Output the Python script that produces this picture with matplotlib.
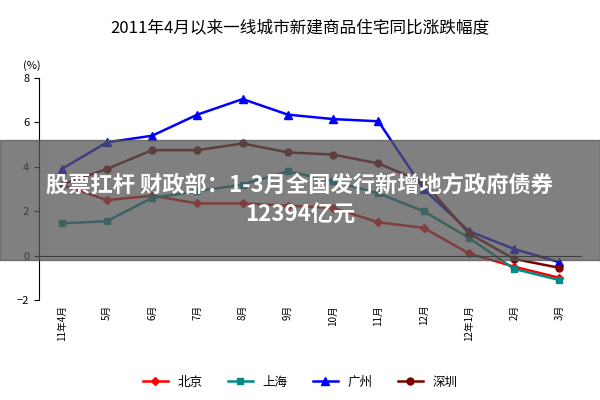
import matplotlib
matplotlib.use("Agg")
import matplotlib.pyplot as plt
from matplotlib.patches import Rectangle

plt.rcParams['font.family'] = ['Noto Sans CJK SC', 'DejaVu Sans']

months = ["11年4月", "5月", "6月", "7月", "8月", "9月", "10月", "11月", "12月", "12年1月", "2月", "3月"]
beijing = [3.2, 2.5, 2.7, 2.35, 2.35, 2.25, 2.15, 1.5, 1.25, 0.1, -0.5, -1.0]
shanghai = [1.45, 1.55, 2.6, 2.9, 3.2, 3.8, 3.35, 2.8, 2.0, 0.8, -0.6, -1.1]
guangzhou = [3.9, 5.1, 5.4, 6.35, 7.05, 6.35, 6.15, 6.05, 3.0, 1.1, 0.3, -0.3]
shenzhen = [3.2, 3.9, 4.75, 4.75, 5.05, 4.65, 4.55, 4.15, 3.3, 1.0, -0.15, -0.55]

fig = plt.figure(figsize=(6, 4), dpi=100)
ax = fig.add_axes([0.065, 0.25, 0.905, 0.555])
x = range(len(months))
ax.plot(x, beijing, color="#ff0000", marker="D", ms=4, lw=1.8, label="北京")
ax.plot(x, shanghai, color="#008b8b", marker="s", ms=5, lw=1.8, label="上海")
ax.plot(x, guangzhou, color="#0000ff", marker="^", ms=6, lw=1.8, label="广州")
ax.plot(x, shenzhen, color="#7b0000", marker="o", ms=5, lw=1.8, label="深圳")

ax.set_xlim(-0.5, len(months) - 0.5)
ax.set_ylim(-2, 8)
ax.set_yticks([-2, 0, 2, 4, 6, 8])
ax.set_xticks(list(x))
ax.set_xticklabels(months, rotation=90, fontsize=7)
ax.tick_params(axis="y", labelsize=8)
ax.tick_params(axis="x", length=0)
for s in ("top", "right", "bottom"):
    ax.spines[s].set_visible(False)
ax.axhline(0, color="black", lw=0.8)
ax.text(-0.03, 1.04, "(%)", transform=ax.transAxes, fontsize=8)

fig.suptitle("2011年4月以来一线城市新建商品住宅同比涨跌幅度", y=0.95, fontsize=12)
fig.legend(loc="lower center", ncol=4, frameon=False, fontsize=9, bbox_to_anchor=(0.5, 0.0))

fig.patches.append(Rectangle((0, 0.35), 1, 0.3, transform=fig.transFigure,
                             color="#555555", alpha=0.75, zorder=5))
fig.text(0.5, 0.5, "股票扛杆 财政部：1-3月全国发行新增地方政府债券\n12394亿元",
         ha="center", va="center", color="white", fontsize=16, fontweight="bold",
         linespacing=1.4, zorder=6)

fig.savefig("out.png")
